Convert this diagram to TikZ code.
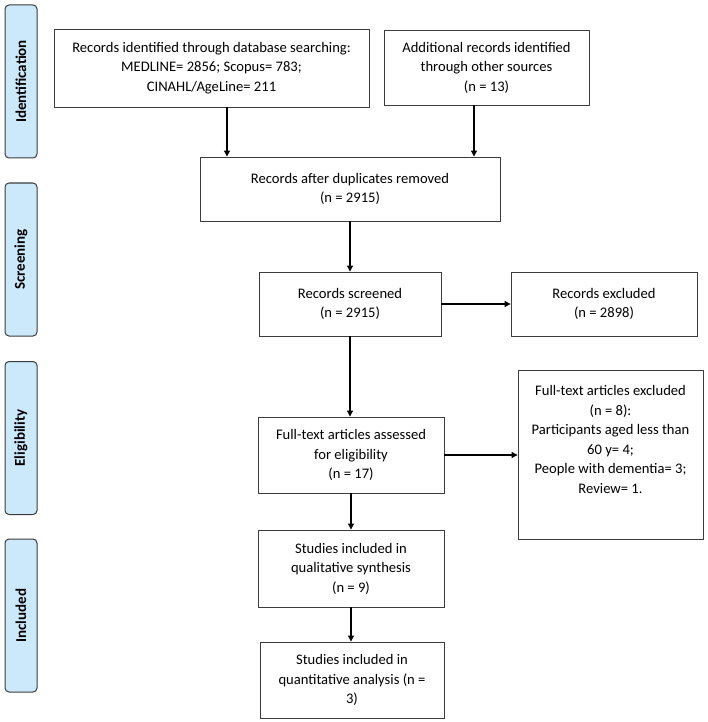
\documentclass[tikz,border=0pt]{standalone}
\usepackage{fontspec}
\setmainfont{Carlito}
\usetikzlibrary{arrows.meta,positioning}
\definecolor{stageblue}{RGB}{204,232,251}
\definecolor{boxline}{RGB}{60,60,60}
\tikzset{
  stage box/.style={draw=boxline,line width=1pt,fill=stageblue,rounded corners=4pt,rotate=90,
    minimum width=153pt,minimum height=32pt,inner sep=0pt,
    font=\fontsize{15}{18}\selectfont\bfseries},
  flow box/.style={draw=boxline,line width=0.9pt,align=center,inner sep=2pt,
    font=\fontsize{14.6}{19.5}\selectfont},
  flow arrow/.style={-{Triangle[length=6pt,width=6pt]},line width=1.1pt},
}
\begin{document}
\begin{tikzpicture}[x=1pt,y=-1pt]
  \useasboundingbox (0,0) rectangle (708,722);
  % stages
  \node[stage box] (s1) at (21,81.5) {Identification};
  \node[stage box] (s2) at (21,259.5) {Screening};
  \node[stage box] (s3) at (21,438) {Eligibility};
  \node[stage box] (s4) at (21,615.5) {Included};
  % boxes
  \node[flow box,minimum width=315pt,minimum height=78pt] (db) at (211.5,68)
    {Records identified through database searching:\\ MEDLINE= 2856; Scopus= 783;\\ CINAHL/AgeLine= 211};
  \node[flow box,minimum width=205pt,minimum height=75pt] (other) at (486.5,67.5)
    {Additional records identified\\ through other sources\\ (n = 13)};
  \node[flow box,minimum width=300pt,minimum height=64pt] (dup) at (350,189)
    {Records after duplicates removed\\ (n = 2915)};
  \node[flow box,minimum width=182pt,minimum height=64pt] (screen) at (350,304)
    {Records screened\\ (n = 2915)};
  \node[flow box,minimum width=186pt,minimum height=64pt] (excl) at (604,304)
    {Records excluded\\ (n = 2898)};
  \node[flow box,minimum width=186pt,minimum height=76pt] (full) at (351,455)
    {Full-text articles assessed\\ for eligibility\\ (n = 17)};
  \node[flow box,minimum width=185pt,minimum height=169pt] (fullexcl) at (610.5,454.5)
    {Full-text articles excluded\\ (n = 8):\\ Participants aged less than\\ 60 y= 4;\\ People with dementia= 3;\\ Review= 1.\rule[-30pt]{0pt}{30pt}};
  \node[flow box,minimum width=186pt,minimum height=77pt] (qual) at (351,568.5)
    {Studies included in\\ qualitative synthesis\\ (n = 9)};
  \node[flow box,minimum width=184pt,minimum height=76pt] (quant) at (352,680)
    {Studies included in\\ quantitative analysis (n =\\ 3)};
  % arrows
  \draw[flow arrow] ([xshift=15.5pt]db.south) -- ([xshift=15.5pt]db.south |- dup.north);
  \draw[flow arrow] ([xshift=-12.5pt]other.south) -- ([xshift=-12.5pt]other.south |- dup.north);
  \draw[flow arrow] (dup.south) -- (screen.north);
  \draw[flow arrow] (screen.east) -- (excl.west);
  \draw[flow arrow] (screen.south) -- (screen.south |- full.north);
  \draw[flow arrow] (full.east) -- (full.east -| fullexcl.west);
  \draw[flow arrow] (full.south) -- (qual.north);
  \draw[flow arrow] (qual.south) -- (qual.south |- quant.north);
\end{tikzpicture}
\end{document}
